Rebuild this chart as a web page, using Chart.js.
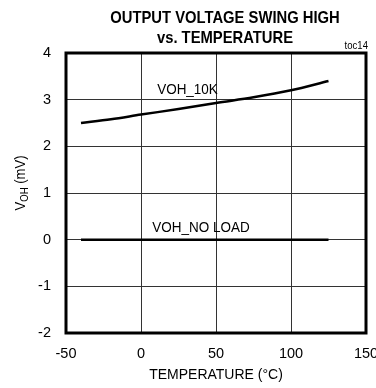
<!DOCTYPE html>
<html>
<head>
<meta charset="utf-8">
<script src="https://cdn.jsdelivr.net/npm/chart.js@4"></script>
<style>
  html, body { margin: 0; padding: 0; background: #fff; }
  #wrap { width: 376px; height: 388px; position: relative; }
</style>
</head>
<body>
<div id="wrap"><canvas id="chart"></canvas></div>
<script>
// data
const temps = [-40, -20, 0, 25, 50, 75, 100, 125];
const voh10k = [2.5, 2.58, 2.68, 2.8, 2.93, 3.05, 3.2, 3.4];
const vohNoLoad = [0, 0, 0, 0, 0, 0, 0, 0];
const xTicks = [-50, 0, 50, 100, 150];
const yTicks = [-2, -1, 0, 1, 2, 3, 4];

const FONT = '"Liberation Sans", Arial, sans-serif';
const NARROW = 0.87;

const toPts = ys => temps.map((t, i) => ({ x: t, y: ys[i] }));

// narrow text: squeeze horizontally around (x, y)
function narrowText(ctx, text, x, y, font, align) {
    ctx.save();
    ctx.font = font;
    ctx.textAlign = align || 'center';
    ctx.textBaseline = 'middle';
    ctx.translate(x, y);
    ctx.scale(NARROW, 1);
    ctx.fillText(text, 0, 0);
    ctx.restore();
}

// title, frame, curve labels and the subscripted axis title
const decor = {
    id: 'decor',
    afterDraw(chart) {
        const { ctx, chartArea: a, scales: { x, y } } = chart;
        ctx.save();
        ctx.strokeStyle = '#000';
        ctx.lineWidth = 3;
        ctx.strokeRect(a.left, a.top, a.right - a.left, a.bottom - a.top);
        ctx.fillStyle = '#000';

        narrowText(ctx, 'OUTPUT VOLTAGE SWING HIGH', 225, 18, 'bold 17px ' + FONT);
        narrowText(ctx, 'vs. TEMPERATURE', 225, 38, 'bold 17px ' + FONT);
        narrowText(ctx, 'toc14', 368, 46, '11px ' + FONT, 'right');

        narrowText(ctx, 'VOH_10K', x.getPixelForValue(31), y.getPixelForValue(3.22), '15.5px ' + FONT);
        narrowText(ctx, 'VOH_NO LOAD', x.getPixelForValue(40), y.getPixelForValue(0.25), '15.5px ' + FONT);

        // y title: V with subscript OH, rotated
        ctx.translate(21, (a.top + a.bottom) / 2 - 10);
        ctx.rotate(-Math.PI / 2);
        ctx.scale(NARROW, 1);
        ctx.textAlign = 'left';
        ctx.textBaseline = 'middle';
        const main = '15px ' + FONT, sub = '11px ' + FONT;
        ctx.font = main; const wV = ctx.measureText('V').width;
        ctx.font = sub; const wOH = ctx.measureText('OH').width;
        ctx.font = main; const wRest = ctx.measureText(' (mV)').width;
        let cx = -(wV + wOH + wRest) / 2;
        ctx.fillText('V', cx, 0); cx += wV;
        ctx.font = sub; ctx.fillText('OH', cx, 4); cx += wOH;
        ctx.font = main; ctx.fillText(' (mV)', cx, 0);
        ctx.restore();
    }
};

new Chart(document.getElementById('chart'), {
    type: 'line',
    data: {
        datasets: [
            { label: 'VOH_10K', data: toPts(voh10k), borderColor: '#000', borderWidth: 2.5, pointRadius: 0, tension: 0.4, cubicInterpolationMode: 'monotone' },
            { label: 'VOH_NO LOAD', data: toPts(vohNoLoad), borderColor: '#000', borderWidth: 2.5, pointRadius: 0 }
        ]
    },
    options: {
        responsive: true, maintainAspectRatio: false, animation: false,
        layout: { padding: { top: 53, right: 0, left: 0, bottom: 0 } },
        plugins: { legend: { display: false }, tooltip: { enabled: false }, title: { display: false } },
        scales: {
            x: {
                type: 'linear', min: -50, max: 150,
                afterBuildTicks: s => { s.ticks = xTicks.map(v => ({ value: v })); },
                afterFit: s => { s.height = 55; s.paddingRight = 10; },
                grid: { color: '#333', lineWidth: 1, drawTicks: false },
                border: { display: false },
                ticks: { color: '#000', padding: 12, font: { family: FONT, size: 14.5 }, maxRotation: 0 },
                title: { display: true, text: 'TEMPERATURE (°C)', color: '#000', font: { family: FONT, size: 14 }, padding: { top: 6 } }
            },
            y: {
                min: -2, max: 4,
                afterBuildTicks: s => { s.ticks = yTicks.map(v => ({ value: v })); },
                afterFit: s => { s.width = 66; },
                grid: { color: '#333', lineWidth: 1, drawTicks: false },
                border: { display: false },
                ticks: { color: '#000', padding: 15, font: { family: FONT, size: 14.5 } }
            }
        }
    },
    plugins: [decor]
});
</script>
</body>
</html>
